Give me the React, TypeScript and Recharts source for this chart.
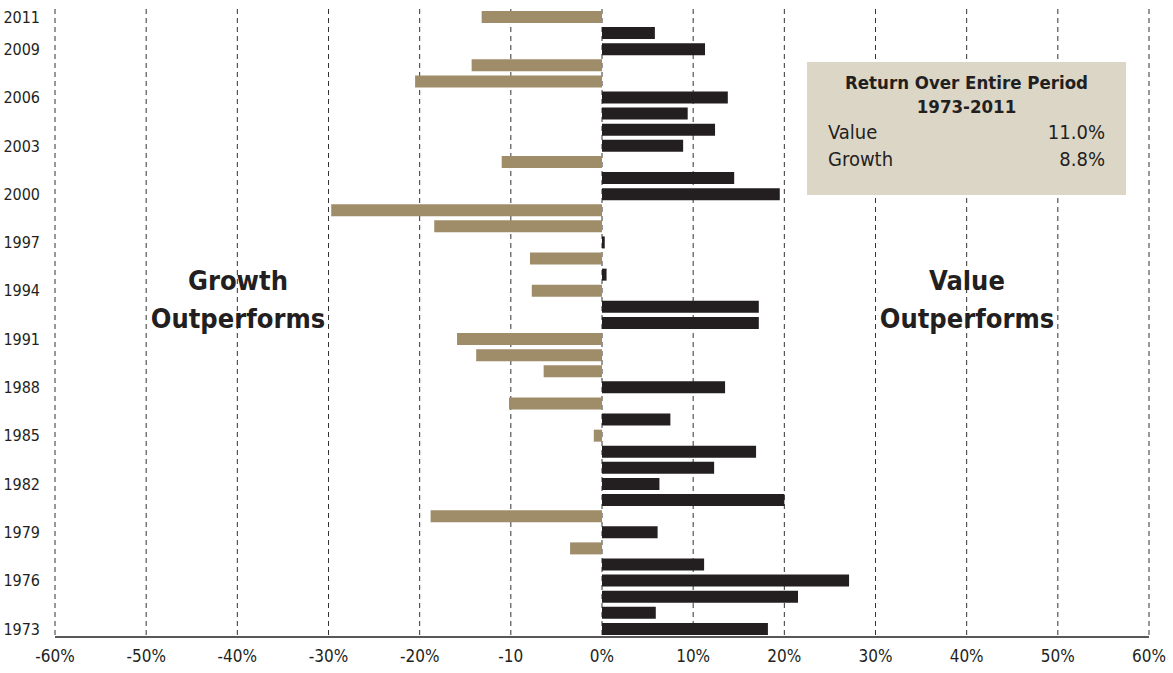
import React from 'react';
import { BarChart, Bar, XAxis, YAxis, CartesianGrid, Cell } from 'recharts';

const years = [
  1973, 1974, 1975, 1976, 1977, 1978, 1979, 1980, 1981, 1982,
  1983, 1984, 1985, 1986, 1987, 1988, 1989, 1990, 1991, 1992,
  1993, 1994, 1995, 1996, 1997, 1998, 1999, 2000, 2001, 2002,
  2003, 2004, 2005, 2006, 2007, 2008, 2009, 2010, 2011,
];
const valueMinusGrowth = [
  18.2, 5.9, 21.5, 27.1, 11.2, -3.5, 6.1, -18.8, 20.0, 6.3,
  12.3, 16.9, -0.9, 7.5, -10.2, 13.5, -6.4, -13.8, -15.9, 17.2,
  17.2, -7.7, 0.5, -7.9, 0.3, -18.4, -29.7, 19.5, 14.5, -11.0,
  8.9, 12.4, 9.4, 13.8, -20.5, -14.3, 11.3, 5.8, -13.2,
];
const yearTicks = [1973, 1976, 1979, 1982, 1985, 1988, 1991, 1994, 1997, 2000, 2003, 2006, 2009, 2011];
const xTicks = [-60, -50, -40, -30, -20, -10, 0, 10, 20, 30, 40, 50, 60];
const summaryTitle = ['Return Over Entire Period', '1973-2011'];
const summaryRows = [
  { label: 'Value', value: '11.0%' },
  { label: 'Growth', value: '8.8%' },
];

const data = years.map((y, i) => ({ year: y, diff: valueMinusGrowth[i] }));

const FONT = '"Liberation Sans Narrow", "DejaVu Sans Condensed", "Arial Narrow", sans-serif';
const GOLD = '#9e8d68';
const DARK = '#231f20';

export default function App() {
  return (
    <div style={{ position: 'absolute', left: 0, top: 0, width: 1173, height: 673, background: '#fff', fontFamily: FONT }}>
      <BarChart
        width={1173}
        height={673}
        data={data}
        layout="vertical"
        margin={{ top: 9, right: 24, bottom: 0, left: 0 }}
        barSize={12}
      >
        <CartesianGrid horizontal={false} stroke="#333" strokeDasharray="5 4" />
        <XAxis
          type="number"
          domain={[-60, 60]}
          ticks={xTicks}
          interval={0}
          tickFormatter={(v: number) => (v === -10 ? '-10' : `${v}%`)}
          tickLine={false}
          axisLine={{ stroke: '#231f20', strokeWidth: 1.5 }}
          tick={{ fill: '#231f20', fontSize: 17, fontFamily: FONT }}
          tickSize={0}
          tickMargin={13}
          height={36}
        />
        <YAxis
          type="category"
          dataKey="year"
          reversed
          ticks={yearTicks}
          interval={0}
          tickLine={false}
          axisLine={false}
          width={55}
          tickSize={0}
          tickMargin={15}
          tick={{ fill: '#231f20', fontSize: 16, fontFamily: FONT }}
        />
        <Bar dataKey="diff" isAnimationActive={false}>
          {data.map((d, i) => (
            <Cell key={i} fill={d.diff < 0 ? GOLD : DARK} />
          ))}
        </Bar>
      </BarChart>
      <div style={{ position: 'absolute', left: 138, top: 262, width: 200, textAlign: 'center', fontWeight: 'bold', fontSize: 27, lineHeight: '38px', color: DARK }}>
        Growth<br />Outperforms
      </div>
      <div style={{ position: 'absolute', left: 867, top: 262, width: 200, textAlign: 'center', fontWeight: 'bold', fontSize: 27, lineHeight: '38px', color: DARK }}>
        Value<br />Outperforms
      </div>
      <div style={{ position: 'absolute', left: 807, top: 62, width: 319, height: 133, background: '#dcd6c7', color: DARK, boxSizing: 'border-box', padding: '9px 21px 0 21px' }}>
        <div style={{ textAlign: 'center', fontWeight: 'bold', fontSize: 18.5, lineHeight: '24px' }}>
          {summaryTitle[0]}<br />{summaryTitle[1]}
        </div>
        {summaryRows.map((r) => (
          <div key={r.label} style={{ display: 'flex', justifyContent: 'space-between', fontSize: 20, lineHeight: '27px' }}>
            <span>{r.label}</span>
            <span>{r.value}</span>
          </div>
        ))}
      </div>
    </div>
  );
}
